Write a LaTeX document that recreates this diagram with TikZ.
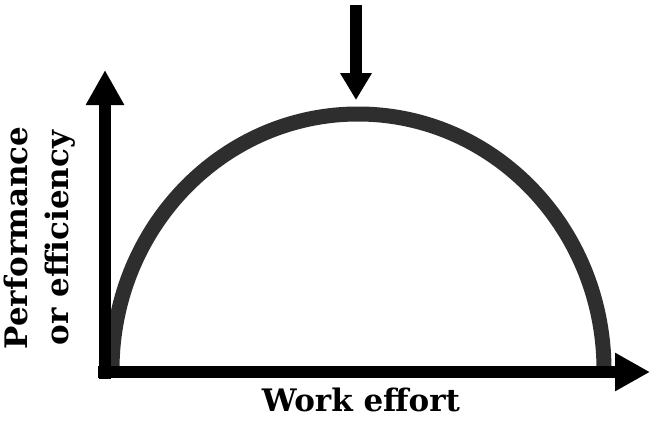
\documentclass[tikz,border=0pt]{standalone}
\usepackage{fontspec}
\setmainfont{DejaVu Serif}
\usetikzlibrary{arrows.meta}
\begin{document}
\begin{tikzpicture}[x=1pt,y=1pt,
  axis/.style={line width=12pt,-{Triangle[length=35pt,width=36pt]}},
  curvestyle/.style={line width=15pt,draw=black!82},
  marker/.style={line width=12pt,-{Triangle[length=27pt,width=30pt]}},
  lbl/.style={font=\bfseries\fontsize{31}{36}\selectfont,inner sep=0pt}]
\useasboundingbox (0,0) rectangle (652,424);
\coordinate (ybot) at (105,45);
\coordinate (ytop) at (105,354);
\coordinate (xbeg) at (98,52);
\coordinate (xend) at (650,52);
\coordinate (cstart) at (112,54);
\coordinate (atop) at (356,419);
\coordinate (abot) at (356,324);
\draw[curvestyle] (cstart) arc[start angle=180,end angle=0,x radius=246,y radius=256];
\draw[axis] (ybot) -- (ytop);
\draw[axis] (xbeg) -- (xend);
\draw[marker] (atop) -- (abot);
\node[lbl] (xl) at (361,24) {Work effort};
\node[lbl,rotate=90,align=center,font=\bfseries\fontsize{31}{41}\selectfont] (yl) at (40,186) {Performance\\or efficiency};
\end{tikzpicture}
\end{document}
